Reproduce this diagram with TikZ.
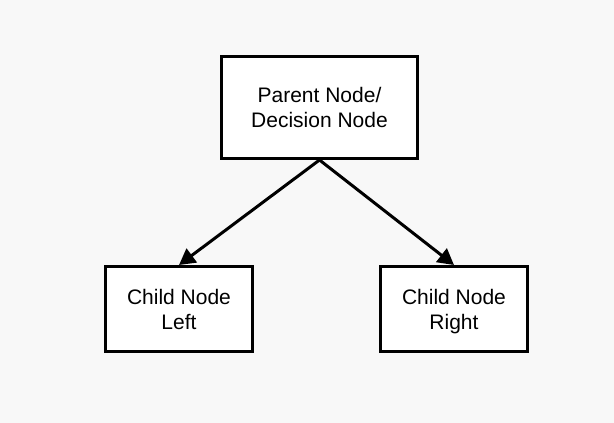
\documentclass[tikz,border=0pt]{standalone}
\usepackage{fontspec}
\setmainfont{Liberation Sans}
\usetikzlibrary{arrows.meta}
\definecolor{bg}{HTML}{F8F8F8}
\newcommand\mystrut{\rule[-5pt]{0pt}{25pt}}
\begin{document}
\begin{tikzpicture}[x=1pt,y=-1pt,
  box/.style={draw=black,fill=white,line width=3pt,align=center,font=\fontsize{21}{25}\selectfont,inner sep=0pt},
  conn/.style={line width=3pt,-{Triangle[length=16pt,width=17pt]}}]
\fill[bg] (0,0) rectangle (614,423);
\useasboundingbox (0,0) rectangle (614,423);
\node[box,minimum width=196pt,minimum height=102pt] (p) at (319.5,107.5) {\mystrut Parent Node/\\\mystrut Decision Node};
\node[box,minimum width=147pt,minimum height=85pt] (l) at (179,309) {\mystrut Child Node\\\mystrut Left};
\node[box,minimum width=147pt,minimum height=85pt] (r) at (454,309) {\mystrut Child Node\\\mystrut Right};
\draw[conn] (p.south) -- (l.north);
\draw[conn] (p.south) -- (r.north);
\end{tikzpicture}
\end{document}
